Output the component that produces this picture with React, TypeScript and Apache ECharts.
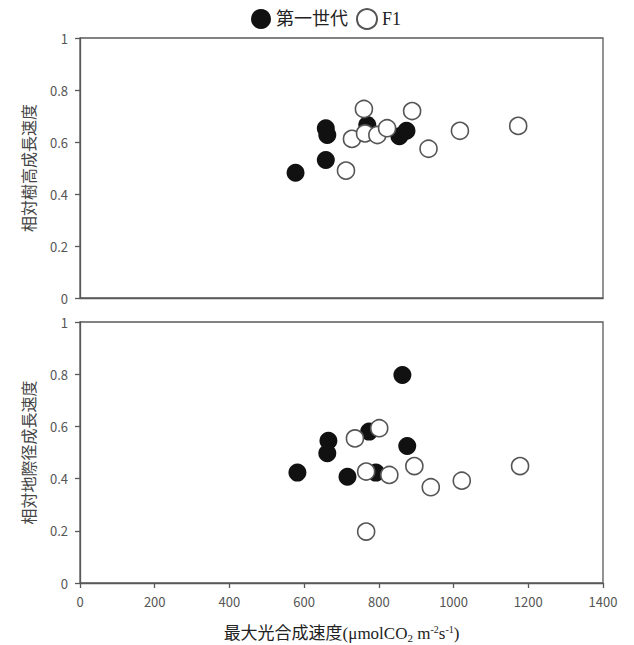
import React, { useEffect, useRef } from "react";
import * as echarts from "echarts";

const seriesNames = ["第一世代", "F1"];
const yTitleTop = "相対樹高成長速度";
const yTitleBottom = "相対地際径成長速度";
const xTitle = "最大光合成速度(μmolCO{sub|2} m{sup|-2}s{sup|-1})";

// [photosynthesis rate, relative height growth rate]
const gen1Height = [
  [577, 0.482], [658, 0.531], [658, 0.653], [662, 0.627],
  [769, 0.665], [855, 0.622], [874, 0.643],
];
const f1Height = [
  [760, 0.727], [889, 0.719], [728, 0.612], [763, 0.633], [796, 0.627],
  [822, 0.653], [712, 0.49], [933, 0.574], [1017, 0.643], [1173, 0.662],
];
// [photosynthesis rate, relative diameter growth rate]
const gen1Diameter = [
  [863, 0.797], [582, 0.423], [665, 0.545], [662, 0.497],
  [716, 0.407], [774, 0.58], [792, 0.423], [876, 0.525],
];
const f1Diameter = [
  [736, 0.554], [801, 0.593], [766, 0.427], [828, 0.414], [895, 0.448],
  [939, 0.367], [1022, 0.392], [1178, 0.448], [766, 0.197],
];

const AXIS = "#595959";
const LABEL = "#555";
const SANS = "'Noto Sans CJK JP', 'Noto Sans', sans-serif";
const SERIF = "'Liberation Serif', 'Noto Sans CJK JP', serif";

export default function App() {
  const ref = useRef<HTMLDivElement>(null);
  useEffect(() => {
    if (!ref.current) return;
    const chart = echarts.init(ref.current, null, { renderer: "svg" });
    const yAxisBase = (name: string) => ({
      type: "value",
      min: 0,
      max: 1,
      interval: 0.2,
      name,
      nameLocation: "middle",
      nameGap: 44,
      nameRotate: 90,
      nameTextStyle: { color: "#444", fontSize: 16, fontFamily: SANS },
      axisLine: { show: true, lineStyle: { color: AXIS, width: 1.3 } },
      axisTick: { show: true, length: 5, lineStyle: { color: AXIS, width: 1.3 } },
      axisLabel: { color: LABEL, fontSize: 13, margin: 12, fontFamily: SANS },
      splitLine: { show: false },
    });
    const gen1Style = { color: "#111111", opacity: 1 };
    const f1Style = { color: "#ffffff", borderColor: "#555", borderWidth: 1.6, opacity: 1 };
    chart.setOption({
      animation: false,
      backgroundColor: "#fff",
      legend: {
        top: 3,
        left: 246,
        itemWidth: 20,
        itemHeight: 20,
        itemGap: 8,
        icon: "circle",
        textStyle: { fontSize: 18, color: "#222", fontFamily: SERIF },
        data: seriesNames,
      },
      grid: [
        { left: 80, top: 38, width: 523, height: 260, show: true, borderColor: AXIS, borderWidth: 1.3 },
        { left: 80, top: 322, width: 523, height: 261, show: true, borderColor: AXIS, borderWidth: 1.3 },
      ],
      xAxis: [
        {
          gridIndex: 0,
          type: "value",
          min: 0,
          max: 1400,
          interval: 200,
          axisLine: { show: true, lineStyle: { color: AXIS, width: 1.3 } },
          axisTick: { show: false },
          axisLabel: { show: false },
          splitLine: { show: false },
        },
        {
          gridIndex: 1,
          type: "value",
          min: 0,
          max: 1400,
          interval: 200,
          name: xTitle,
          nameLocation: "middle",
          nameGap: 40,
          nameTextStyle: {
            color: "#222",
            fontSize: 17,
            fontFamily: SERIF,
            rich: {
              sub: { fontSize: 11, fontFamily: SERIF, color: "#222", padding: [10, 0, 0, 0] },
              sup: { fontSize: 10, fontFamily: SERIF, color: "#222", padding: [0, 0, 8, 0] },
            },
          },
          axisLine: { show: true, lineStyle: { color: AXIS, width: 1.3 } },
          axisTick: { show: true, length: 5, lineStyle: { color: AXIS, width: 1.3 } },
          axisLabel: {
            color: LABEL,
            fontSize: 13,
            margin: 12,
            fontFamily: SANS,
            formatter: (v: number) => String(v),
          },
          splitLine: { show: false },
        },
      ],
      yAxis: [
        { gridIndex: 0, ...yAxisBase(yTitleTop) },
        { gridIndex: 1, ...yAxisBase(yTitleBottom) },
      ],
      series: [
        { name: seriesNames[0], type: "scatter", xAxisIndex: 0, yAxisIndex: 0, data: gen1Height, symbolSize: 18, itemStyle: gen1Style, z: 2 },
        { name: seriesNames[1], type: "scatter", xAxisIndex: 0, yAxisIndex: 0, data: f1Height, symbolSize: 17, itemStyle: f1Style, z: 3 },
        { name: seriesNames[0], type: "scatter", xAxisIndex: 1, yAxisIndex: 1, data: gen1Diameter, symbolSize: 18, itemStyle: gen1Style, z: 2 },
        { name: seriesNames[1], type: "scatter", xAxisIndex: 1, yAxisIndex: 1, data: f1Diameter, symbolSize: 17, itemStyle: f1Style, z: 3 },
      ],
    });
    return () => chart.dispose();
  }, []);
  return (
    <div
      ref={ref}
      style={{ position: "fixed", left: 0, top: 0, width: 634, height: 645, background: "#fff" }}
    />
  );
}
